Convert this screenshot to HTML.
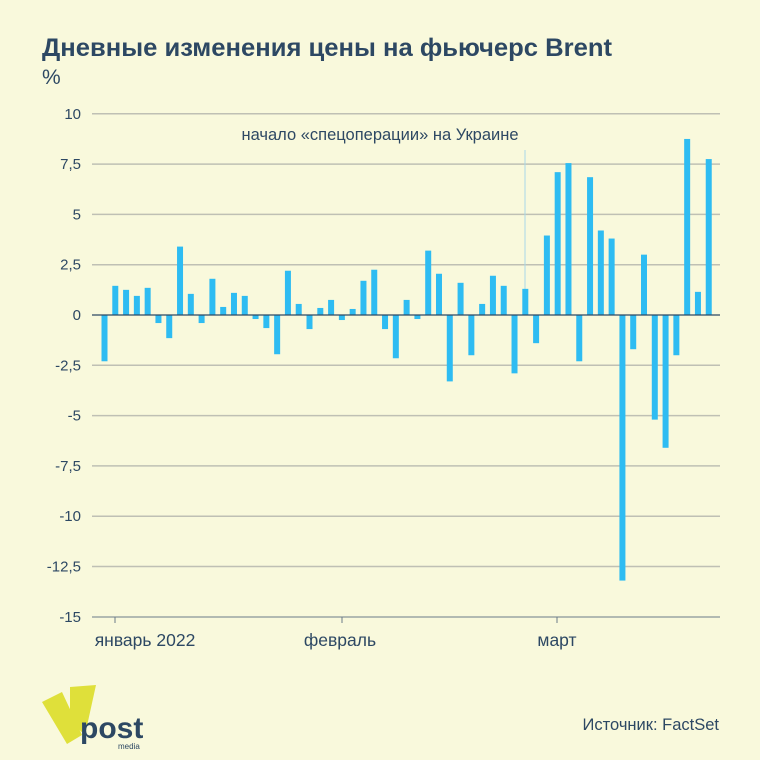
<!DOCTYPE html>
<html><head><meta charset="utf-8"><style>
body{margin:0;background:#f9f9dc;}
svg{display:block;font-family:"Liberation Sans","DejaVu Sans",sans-serif;}
</style></head><body>
<svg id="s" width="760" height="760" xmlns="http://www.w3.org/2000/svg">
<rect width="760" height="760" fill="#f9f9dc"/>
<text x="42" y="56" font-size="25" font-weight="bold" fill="#2d4863" textLength="570" lengthAdjust="spacingAndGlyphs">Дневные изменения цены на фьючерс Brent</text>
<text x="42" y="84" font-size="21" fill="#2d4863">%</text>
<g id="grid" stroke="#bfc0b4" stroke-width="1.5"></g>
<g id="yl" font-size="15" fill="#2d4863" text-anchor="end"></g>
<line x1="525" y1="150" x2="525" y2="315" stroke="#a9d8e8" stroke-width="1"/>
<text x="380" y="140" font-size="16.5" fill="#2d4863" text-anchor="middle">начало «спецоперации» на Украине</text>
<g id="bars" fill="#2ebcf2"></g>
<line x1="92" y1="315" x2="720" y2="315" stroke="#2d4863" stroke-width="1.2"/>
<line x1="92" y1="617" x2="720" y2="617" stroke="#6b7a88" stroke-width="1"/>
<g stroke="#6b7a88"><line x1="115" y1="617" x2="115" y2="623"/><line x1="342" y1="617" x2="342" y2="623"/><line x1="557" y1="617" x2="557" y2="623"/></g>
<g font-size="17.5" fill="#2d4863" text-anchor="middle">
<text x="145" y="646">январь 2022</text><text x="340" y="646">февраль</text><text x="557" y="646">март</text></g>
<g transform="translate(40,683)">
<polygon points="2,19 22,9 42,52 27,61" fill="#dfe03a"/>
<polygon points="30,4 56,2 45,52 30,38" fill="#dfe03a"/>
<text x="40" y="55" font-size="30" font-weight="bold" fill="#2d4863">post</text>
<text x="78" y="66" font-size="8" fill="#2d4863">media</text>
</g>
<text x="719" y="730" font-size="16.5" fill="#2d4863" text-anchor="end">Источник: FactSet</text>
</svg>
<script>
var ns="http://www.w3.org/2000/svg";
function y(v){return 315-v*20.12;}
var g=document.getElementById("grid"),yl=document.getElementById("yl");
var labs={10:"10",7.5:"7,5",5:"5",2.5:"2,5",0:"0","-2.5":"-2,5","-5":"-5","-7.5":"-7,5","-10":"-10","-12.5":"-12,5","-15":"-15"};
for(var v=10;v>=-15;v-=2.5){
 if(v!==0&&v!==-15){var l=document.createElementNS(ns,"line");l.setAttribute("x1",92);l.setAttribute("x2",720);l.setAttribute("y1",y(v));l.setAttribute("y2",y(v));g.appendChild(l);}
 var t=document.createElementNS(ns,"text");t.setAttribute("x",81);t.setAttribute("y",y(v)+5);t.textContent=labs[v];yl.appendChild(t);}
var d=[-2.3,1.45,1.25,0.95,1.35,-0.4,-1.15,3.4,1.05,-0.4,1.8,0.4,1.1,0.95,-0.2,-0.65,-1.95,2.2,0.55,-0.7,0.35,0.75,-0.25,0.3,1.7,2.25,-0.7,-2.15,0.75,-0.2,3.2,2.05,-3.3,1.6,-2.0,0.55,1.95,1.45,-2.9,1.3,-1.4,3.95,7.1,7.55,-2.3,6.85,4.2,3.8,-13.2,-1.7,3.0,-5.2,-6.6,-2.0,8.75,1.15,7.75];
var b=document.getElementById("bars");
d.forEach(function(v,i){var x=104.5+i*10.79;var r=document.createElementNS(ns,"rect");
r.setAttribute("x",x-3);r.setAttribute("width",6);r.setAttribute("y",Math.min(y(v),315));r.setAttribute("height",Math.abs(v*20.12));b.appendChild(r);});
</script>
</body></html>
